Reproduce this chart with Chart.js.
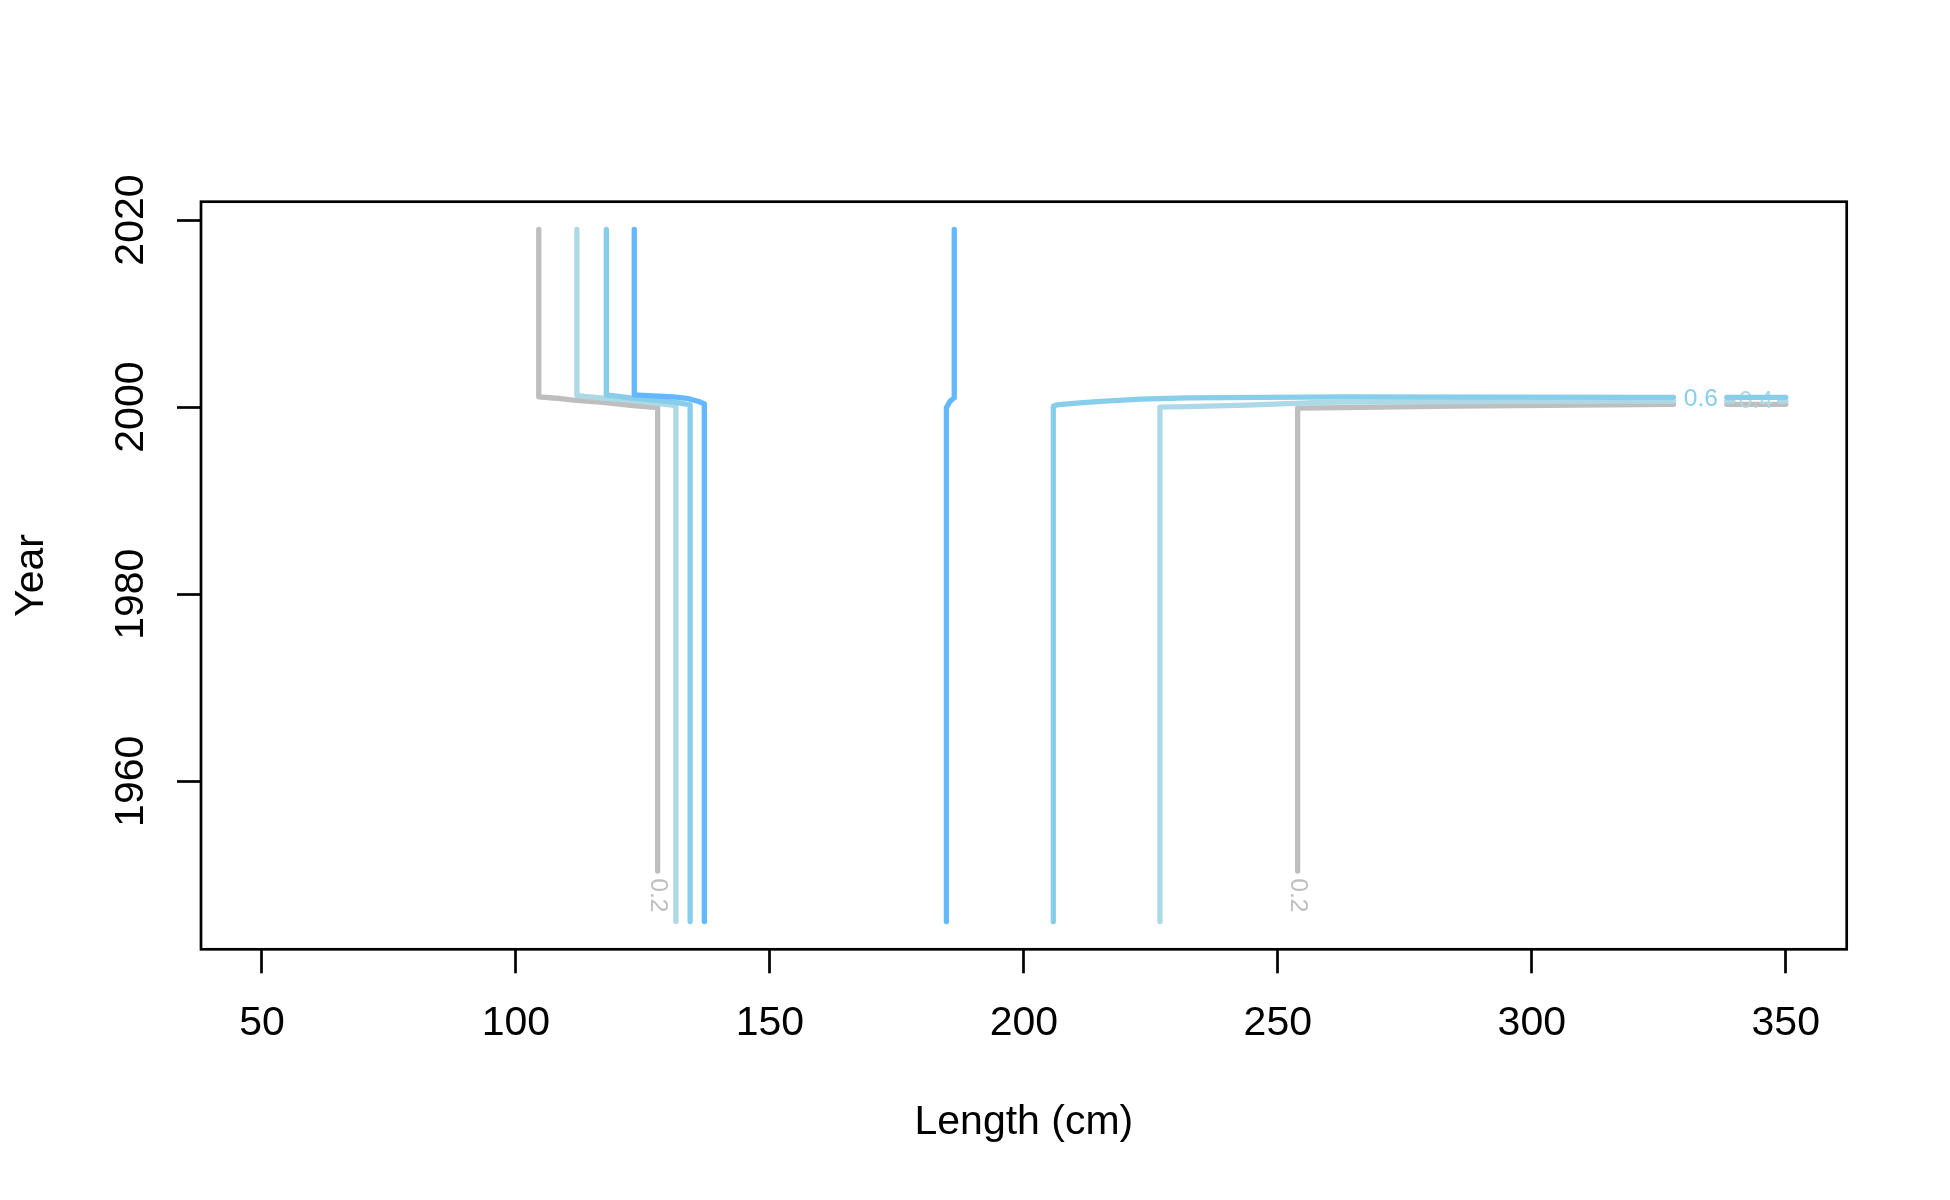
<!DOCTYPE html>
<html><head><meta charset="utf-8">
<script src="https://cdn.jsdelivr.net/npm/chart.js@4.4.0/dist/chart.umd.min.js"></script>
<style>html,body{margin:0;padding:0;background:#fff}#wrap{width:1950px;height:1200px;position:relative}</style>
</head><body><div id="wrap"><canvas id="c"></canvas></div>
<script>
// ---- axes ----
const xTicks = [50, 100, 150, 200, 250, 300, 350];
const yTicks = [1960, 1980, 2000, 2020];
const xRange = [38, 362];
const yRange = [1942.04, 2021.96];
const xTitle = 'Length (cm)';
const yTitle = 'Year';

// ---- contour levels ----
const levels = ['0.2', '0.4', '0.6', '0.8'];
const levelColors = ['#BEBEBE', '#ADD8E6', '#87CEEB', '#63B8FF'];

// level 0.2
const len02a = [104.5, 104.5, 108.0, 111.3, 117.2, 122.5, 127.9, 127.9];
const yr02a  = [2019, 2001.1, 2000.95, 2000.75, 2000.5, 2000.2, 1999.95, 1950.4];
const len02b = [253.9, 253.9, 262.4, 285, 327.9];
const yr02b  = [1950.4, 1999.9, 1999.95, 2000.1, 2000.3];
const len02c = [338.4, 350];
const yr02c  = [2000.3, 2000.3];
// level 0.4
const len04a = [112.0, 112.0, 113.5, 117.2, 122.5, 127.0, 131.5, 131.5];
const yr04a  = [2019, 2001.25, 2001.15, 2000.95, 2000.72, 2000.45, 2000.15, 1945];
const len04b = [226.8, 226.8, 229, 232.2, 244, 257.1, 262.4, 300, 327.9];
const yr04b  = [1945, 2000.0, 2000.03, 2000.05, 2000.22, 2000.47, 2000.54, 2000.62, 2000.64];
const len04c = [338.4, 339.6];
const yr04c  = [2000.64, 2000.64];
const len04d = [348.8, 350];
const yr04d  = [2000.64, 2000.64];
// level 0.6
const len06a = [117.8, 117.8, 119.5, 122.5, 127.5, 131.5, 134.3, 134.3];
const yr06a  = [2019, 2001.3, 2001.2, 2001.0, 2000.75, 2000.5, 2000.25, 1945];
const len06b = [205.8, 205.8, 206.5, 209.8, 214.4, 223.0, 232.2, 262.4, 327.9];
const yr06b  = [1945, 2000.1, 2000.25, 2000.4, 2000.58, 2000.86, 2000.98, 2001.09, 2001.05];
const len06c = [338.4, 350];
const yr06c  = [2001.05, 2001.05];
// level 0.8
const len08a = [123.3, 123.3, 127, 131, 134, 136, 137.1, 137.1];
const yr08a  = [2019, 2001.3, 2001.2, 2001.1, 2000.9, 2000.6, 2000.35, 1945];
const len08b = [186.3, 186.3, 185.5, 184.75, 184.75];
const yr08b  = [2019, 2001.0, 2000.64, 1999.94, 1945];

// contour labels
const labelText  = ['0.2', '0.2', '0.4', '0.6'];
const labelLen   = [127.9, 253.9, 344.1, 333.3];
const labelYear  = [1947.8, 1947.8, 2000.6, 2000.8];
const labelLevel = [0, 0, 1, 2];
const labelVertical = [true, true, false, false];

const segments = [
  [0, len02a, yr02a], [0, len02b, yr02b], [0, len02c, yr02c],
  [1, len04a, yr04a], [1, len04b, yr04b], [1, len04c, yr04c], [1, len04d, yr04d],
  [2, len06a, yr06a], [2, len06b, yr06b], [2, len06c, yr06c],
  [3, len08a, yr08a], [3, len08b, yr08b]
];

const FONT = "'Liberation Sans', Arial, sans-serif";
const seenLevel = {};
const datasets = segments.map(([lv, xs, ys]) => {
  const first = !seenLevel[lv];
  seenLevel[lv] = true;
  return {
    label: levels[lv],
    data: xs.map((x, i) => ({x: x, y: ys[i]})),
    showLine: true,
    borderColor: levelColors[lv],
    backgroundColor: levelColors[lv],
    borderWidth: 5.3,
    borderCapStyle: 'round',
    borderJoinStyle: 'round',
    pointRadius: 0,
    pointHoverRadius: 0,
    tension: 0,
    order: 4 - lv,
    level: lv,
    drawLabels: first
  };
});

const contourLabels = {
  id: 'contourLabels',
  afterDatasetDraw(chart, args) {
    const ds = chart.data.datasets[args.index];
    if (!ds.drawLabels) return;
    const ctx = chart.ctx, xs = chart.scales.x, ys = chart.scales.y;
    ctx.save();
    ctx.font = '24.6px ' + FONT;
    ctx.textAlign = 'center';
    ctx.textBaseline = 'middle';
    for (let i = 0; i < labelText.length; i++) {
      if (labelLevel[i] !== ds.level) continue;
      const px = xs.getPixelForValue(labelLen[i]);
      const py = ys.getPixelForValue(labelYear[i]);
      ctx.save();
      ctx.translate(px, py);
      if (labelVertical[i]) ctx.rotate(Math.PI / 2);
      ctx.fillStyle = levelColors[labelLevel[i]];
      ctx.fillText(labelText[i], 0, 0);
      ctx.restore();
    }
    ctx.restore();
  }
};

const frame = {
  id: 'frame',
  afterDraw(chart) {
    const ctx = chart.ctx, a = chart.chartArea, ys = chart.scales.y;
    ctx.save();
    ctx.strokeStyle = '#000';
    ctx.lineWidth = 2.7;
    ctx.strokeRect(a.left, a.top, a.right - a.left, a.bottom - a.top);
    ctx.fillStyle = '#000';
    ctx.font = '41px ' + FONT;
    ctx.textAlign = 'center';
    ctx.textBaseline = 'alphabetic';
    yTicks.forEach(v => {
      const py = ys.getPixelForValue(v);
      ctx.save();
      ctx.translate(a.left - 58.3, py);
      ctx.rotate(-Math.PI / 2);
      ctx.fillText(String(v), 0, 0);
      ctx.restore();
    });
    ctx.restore();
  }
};

new Chart(document.getElementById('c'), {
  type: 'scatter',
  data: {datasets},
  options: {
    responsive: true,
    maintainAspectRatio: false,
    devicePixelRatio: 1,
    animation: false,
    events: [],
    layout: {padding: {left: 0, top: 201.7, right: 103.3, bottom: 0}},
    plugins: {legend: {display: false}, tooltip: {enabled: false}},
    scales: {
      x: {
        type: 'linear', min: xRange[0], max: xRange[1],
        afterBuildTicks: s => { s.ticks = xTicks.map(v => ({value: v})); },
        afterFit: s => { s.height = 250.7; },
        grid: {drawOnChartArea: false, drawTicks: true, tickLength: 24, tickWidth: 2.7, tickColor: '#000', color: '#000'},
        border: {display: false},
        ticks: {color: '#000', font: {family: FONT, size: 41}, padding: 25.6, maxRotation: 0, minRotation: 0, autoSkip: false,
                callback: v => String(v)},
        title: {display: true, text: xTitle, color: '#000', font: {family: FONT, size: 41}, padding: {top: 0, bottom: 52.9}}
      },
      y: {
        type: 'linear', min: yRange[0], max: yRange[1],
        afterBuildTicks: s => { s.ticks = yTicks.map(v => ({value: v})); },
        afterFit: s => { s.width = 201; },
        grid: {drawOnChartArea: false, drawTicks: true, tickLength: 24, tickWidth: 2.7, tickColor: '#000', color: '#000'},
        border: {display: false},
        ticks: {display: false},
        title: {display: true, text: yTitle, color: '#000', font: {family: FONT, size: 41}, padding: {top: 7.2, bottom: 0}}
      }
    }
  },
  plugins: [contourLabels, frame]
});
</script></body></html>
